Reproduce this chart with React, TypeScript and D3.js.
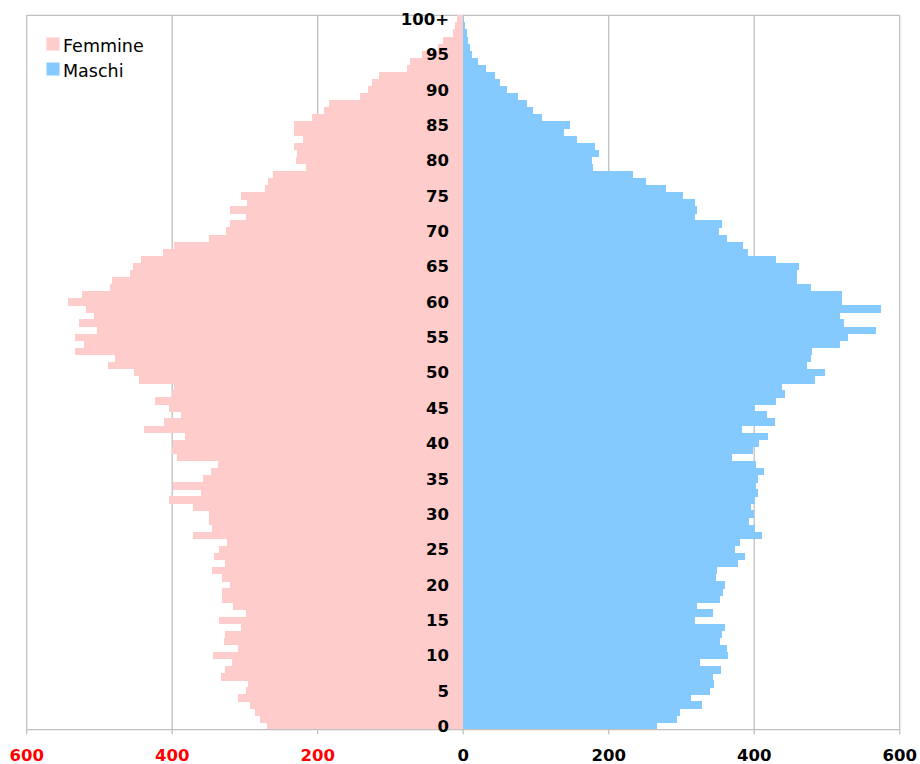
import React from "react";
import * as d3 from "d3";

const ages: number[] = Array.from({ length: 101 }, (_, i) => i);
const ageLabels: string[] = ages.map((a) => (a === 100 ? "100+" : String(a)));

// Femmine, age 0 -> 100+
const femmine: number[] = [
  270, 280, 286, 293, 309, 299, 296, 333, 327, 318,
  344, 309, 329, 328, 305, 335, 298, 316, 331, 332,
  320, 332, 345, 328, 343, 335, 324, 371, 345, 350,
  349, 371, 405, 360, 399, 358, 346, 337, 394, 400,
  399, 383, 439, 411, 388, 405, 423, 400, 398, 446,
  453, 488, 479, 534, 521, 534, 504, 528, 507, 519,
  543, 524, 486, 483, 458, 454, 443, 413, 398, 349,
  326, 320, 299, 320, 297, 305, 273, 269, 261, 216,
  230, 229, 233, 220, 232, 232, 208, 192, 185, 142,
  131, 125, 116, 77, 73, 57, 34, 28, 14, 11,
  8,
];

// Maschi, age 0 -> 100+
const maschi: number[] = [
  266, 294, 298, 328, 313, 339, 345, 343, 355, 326,
  364, 362, 353, 356, 360, 319, 343, 321, 353, 357,
  360, 347, 349, 378, 387, 373, 381, 411, 401, 393,
  400, 396, 401, 405, 403, 405, 413, 403, 370, 398,
  406, 419, 383, 428, 417, 401, 430, 443, 438, 483,
  498, 472, 478, 479, 518, 529, 568, 524, 518, 574,
  520, 521, 478, 459, 459, 462, 430, 392, 384, 362,
  351, 356, 318, 322, 318, 302, 279, 251, 234, 179,
  177, 186, 181, 156, 139, 147, 109, 96, 88, 75,
  60, 50, 44, 32, 20, 12, 9, 7, 5, 3,
  1,
];

const xTicks: number[] = [-600, -400, -200, 0, 200, 400, 600];
const seriesNames: string[] = ["Femmine", "Maschi"];
const seriesColors: string[] = ["#FFCCCC", "#85CAFF"];

export default function App() {
  const W = 920;
  const H = 764;
  const left = 26.7;
  const right = 899.7;
  const top = 15.3;
  const bottom = 729.7;

  const x = d3.scaleLinear().domain([-600, 600]).range([left, right]);
  const y = d3
    .scaleBand<string>()
    .domain(ageLabels.slice().reverse())
    .range([top, bottom])
    .padding(0);
  const bw = y.bandwidth();
  const x0 = x(0);
  const grid = "#C0C0C0";
  const tickFont = "'DejaVu Sans', Verdana, sans-serif";

  return (
    <svg
      width={W}
      height={H}
      style={{ position: "absolute", left: 0, top: 0, background: "#fff" }}
    >
      <rect x={0} y={0} width={W} height={H} fill="#fff" />
      {/* gridlines */}
      {xTicks
        .filter((t) => t !== 0)
        .map((t) => (
          <line
            key={"g" + t}
            x1={x(t)}
            x2={x(t)}
            y1={top}
            y2={bottom}
            stroke={grid}
            strokeWidth={1.3}
          />
        ))}
      <line x1={left} x2={right} y1={top} y2={top} stroke={grid} strokeWidth={1.3} />

      {/* bars */}
      <g shapeRendering="crispEdges">
        {ages.map((a, i) => (
          <rect
            key={"f" + a}
            x={x(-femmine[i])}
            y={y(ageLabels[i])!}
            width={x0 - x(-femmine[i])}
            height={bw + 0.4}
            fill={seriesColors[0]}
          />
        ))}
        {ages.map((a, i) => (
          <rect
            key={"m" + a}
            x={x0}
            y={y(ageLabels[i])!}
            width={x(maschi[i]) - x0}
            height={bw + 0.4}
            fill={seriesColors[1]}
          />
        ))}
      </g>

      {/* axis line and ticks */}
      <line x1={left} x2={right} y1={bottom} y2={bottom} stroke={grid} strokeWidth={1.3} />
      {xTicks.map((t) => (
        <line
          key={"t" + t}
          x1={x(t)}
          x2={x(t)}
          y1={bottom}
          y2={bottom + 4.5}
          stroke={grid}
          strokeWidth={1.3}
        />
      ))}
      {xTicks.map((t) => (
        <text
          key={"l" + t}
          x={x(t)}
          y={761}
          textAnchor="middle"
          fontFamily={tickFont}
          fontWeight="bold"
          fontSize={16.5}
          fill={t < 0 ? "#FF0000" : "#000"}
        >
          {Math.abs(t)}
        </text>
      ))}

      {/* age labels */}
      {ages
        .filter((a) => a % 5 === 0)
        .map((a) => (
          <text
            key={"a" + a}
            x={449}
            y={y(ageLabels[a])! + bw / 2}
            dy="0.36em"
            textAnchor="end"
            fontFamily={tickFont}
            fontWeight="bold"
            fontSize={16.5}
            fill="#000"
          >
            {ageLabels[a]}
          </text>
        ))}

      {/* legend */}
      {seriesNames.map((n, i) => (
        <g key={n}>
          <rect x={46.5} y={37.5 + i * 25} width={13} height={13} fill={seriesColors[i]} />
          <text
            x={63}
            y={52.3 + i * 25}
            fontFamily={tickFont}
            fontSize={17.5}
            fill="#000"
          >
            {n}
          </text>
        </g>
      ))}
    </svg>
  );
}
